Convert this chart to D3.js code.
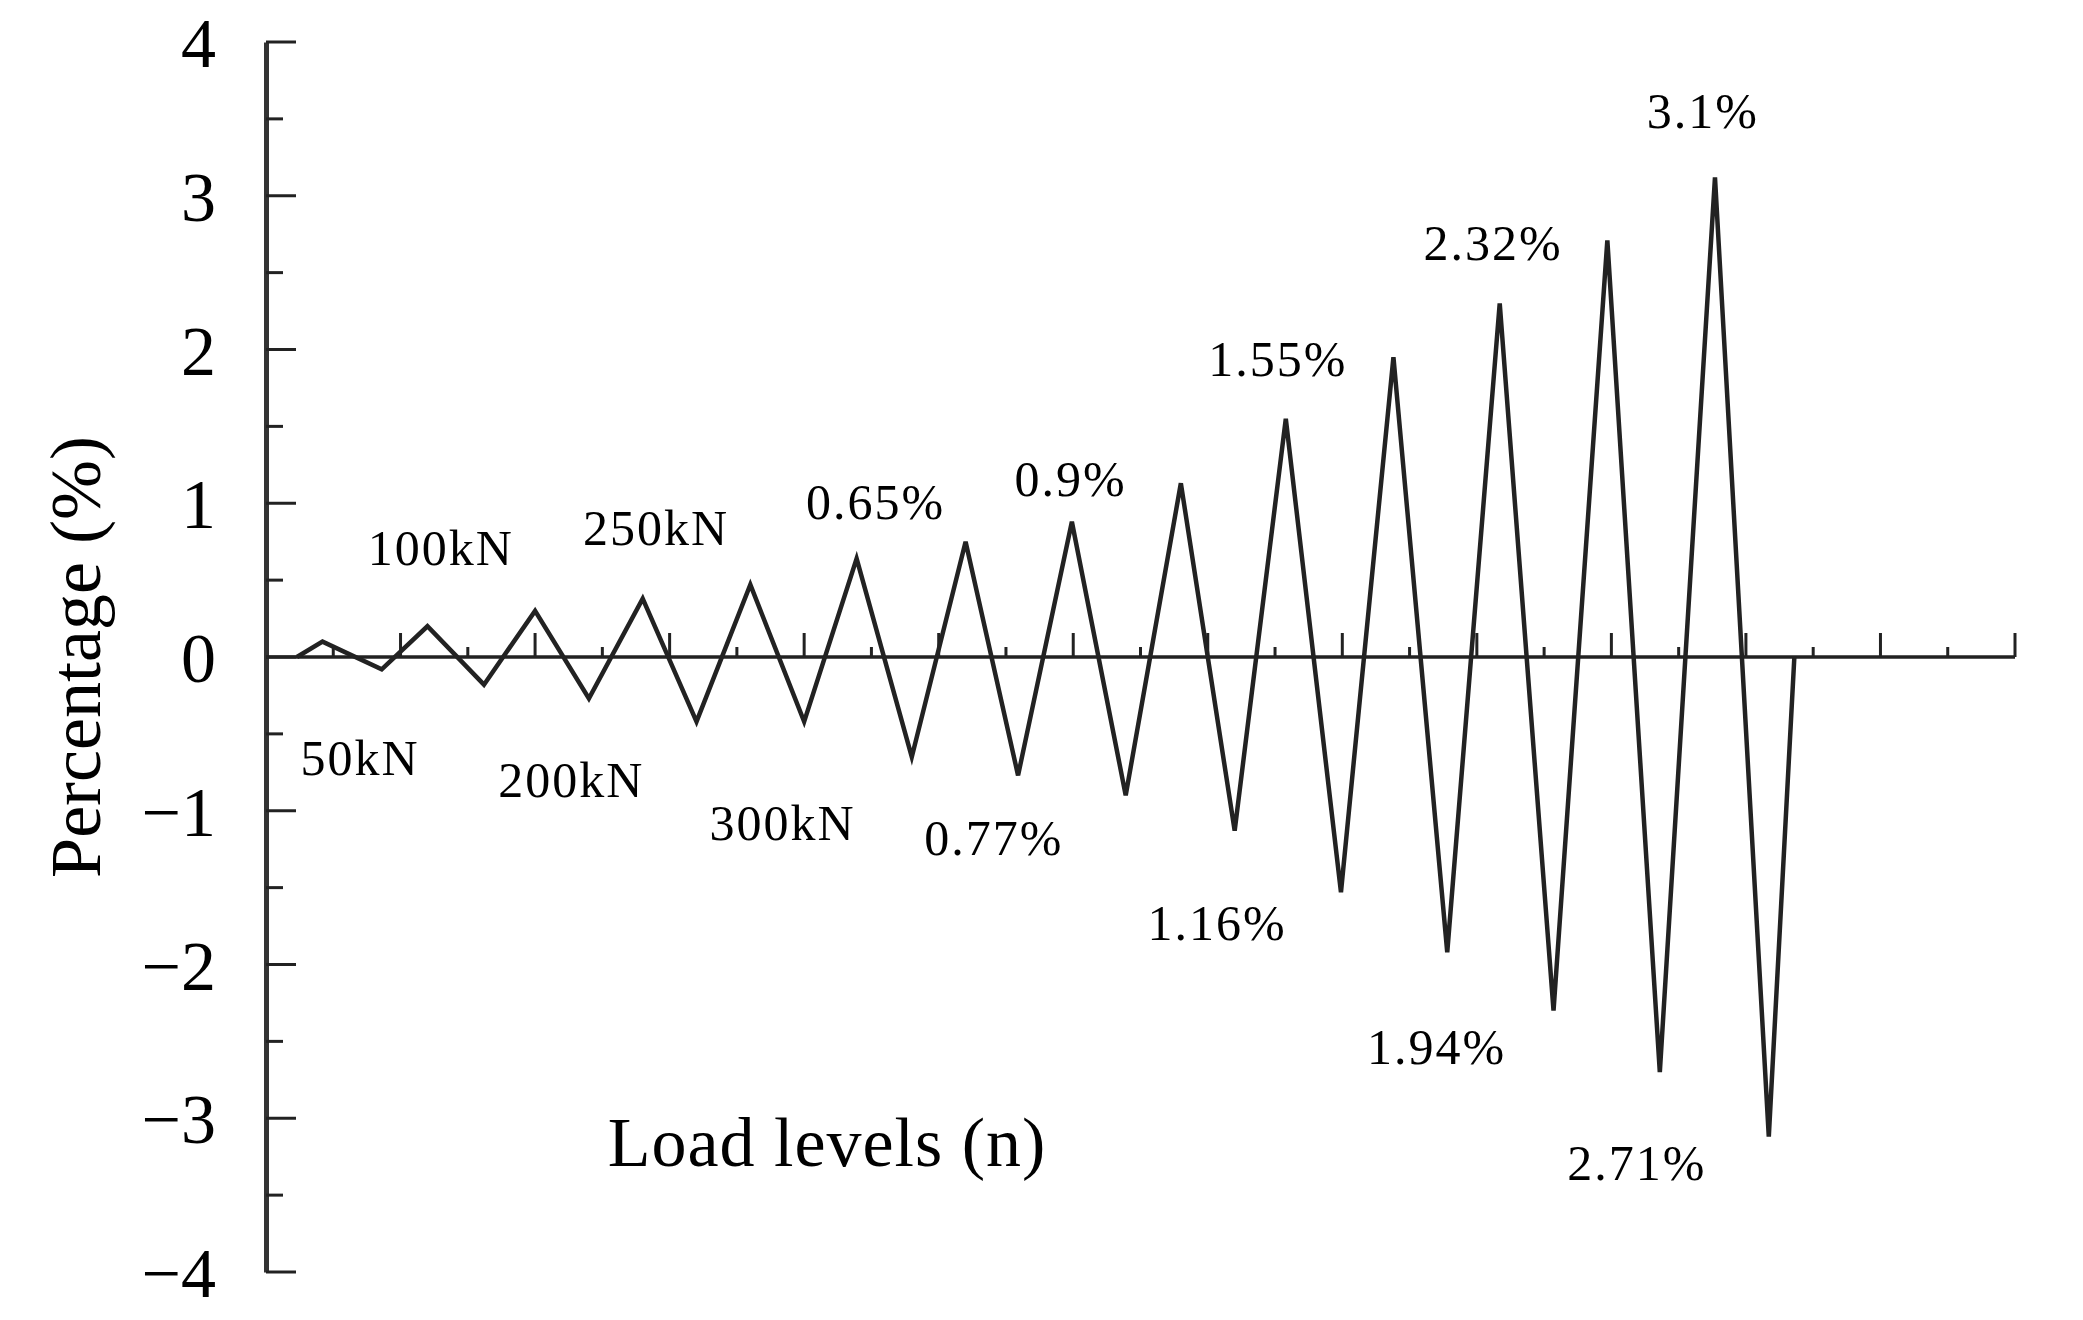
<!DOCTYPE html>
<html>
<head>
  <script src="https://d3js.org/d3.v7.min.js"></script>
  <style>
    body { margin: 0; background: white; }
    text { font-family: "Liberation Serif", "DejaVu Serif", serif; fill: #000; }
  </style>
</head>
<body>
<svg id="chart" width="2083" height="1320"></svg>
<script>
  // peak positions (load-step units) and peak values (%)
  const posX = [0.42, 1.20, 2.00, 2.80, 3.60, 4.39, 5.20, 5.99, 6.80, 7.58, 8.38, 9.17, 9.97, 10.77];
  const posY = [0.10, 0.20, 0.30, 0.38, 0.47, 0.64, 0.75, 0.88, 1.13, 1.55, 1.95, 2.30, 2.71, 3.12];
  const negX = [0.86, 1.62, 2.40, 3.20, 4.00, 4.80, 5.59, 6.39, 7.20, 7.99, 8.78, 9.57, 10.36, 11.17];
  const negY = [-0.08, -0.18, -0.27, -0.42, -0.42, -0.65, -0.77, -0.90, -1.13, -1.53, -1.92, -2.30, -2.70, -3.12];
  const startX = 0.23, endX = 11.36;

  const yTicks = [-4, -3, -2, -1, 0, 1, 2, 3, 4];

  const labels = ["100kN", "250kN", "0.65%", "0.9%", "1.55%", "2.32%", "3.1%",
                  "50kN", "200kN", "300kN", "0.77%", "1.16%", "1.94%", "2.71%"];
  const labelX = [1.3, 2.9, 4.53, 5.98, 7.52, 9.12, 10.68, 0.7, 2.27, 3.84, 5.41, 7.07, 8.7, 10.19];
  const labelY = [0.6, 0.73, 0.9, 1.05, 1.83, 2.58, 3.44, -0.77, -0.91, -1.19, -1.29, -1.84, -2.65, -3.4];

  const svg = d3.select("#chart");
  const x = d3.scaleLinear().domain([0, 13]).range([266, 2015]);
  const y = d3.scaleLinear().domain([-4, 4]).range([1272, 42]);

  // build zigzag: start, alternating pos/neg peaks, end
  const pts = [[startX, 0]];
  posX.forEach((px, i) => {
    pts.push([px, posY[i]]);
    pts.push([negX[i], negY[i]]);
  });
  pts.push([endX, 0]);

  // y axis (ticks inward)
  const yAxis = d3.axisRight(y).tickValues(d3.range(-4, 4.01, 0.5)).tickSize(0).tickFormat("");
  const yg = svg.append("g").attr("transform", `translate(${x(0)},0)`).call(yAxis);
  yg.select(".domain").attr("stroke", "#333").attr("stroke-width", 5);
  yg.selectAll(".tick line").remove();
  d3.range(-4, 4.01, 0.5).forEach(v => {
    const major = Math.abs(v % 1) < 1e-9;
    svg.append("line")
      .attr("x1", x(0)).attr("x2", x(0) + (major ? 30 : 17))
      .attr("y1", y(v)).attr("y2", y(v))
      .attr("stroke", "#222").attr("stroke-width", 3);
  });
  svg.selectAll("text.ytick").data(yTicks).join("text")
    .attr("class", "ytick")
    .attr("x", 216).attr("y", d => y(d) + 25)
    .attr("text-anchor", "end")
    .attr("font-size", 70)
    .text(d => d < 0 ? "\u2212" + Math.abs(d) : d);

  // x axis through zero, ticks upward
  svg.append("line")
    .attr("x1", x(0)).attr("x2", x(13))
    .attr("y1", y(0)).attr("y2", y(0))
    .attr("stroke", "#222").attr("stroke-width", 3.5);
  d3.range(0.5, 13.01, 0.5).forEach(v => {
    const major = Math.abs(v % 1) < 1e-9;
    svg.append("line")
      .attr("x1", x(v)).attr("x2", x(v))
      .attr("y1", y(0)).attr("y2", y(0) - (major ? 24 : 10))
      .attr("stroke", "#222").attr("stroke-width", 3);
  });

  // waveform
  svg.append("path")
    .datum(pts)
    .attr("fill", "none")
    .attr("stroke", "#222")
    .attr("stroke-width", 4.5)
    .attr("stroke-linejoin", "miter")
    .attr("d", d3.line().x(d => x(d[0])).y(d => y(d[1])));

  // annotations
  svg.selectAll("text.ann").data(labels).join("text")
    .attr("class", "ann")
    .attr("x", (d, i) => x(labelX[i]))
    .attr("y", (d, i) => y(labelY[i]))
    .attr("text-anchor", "middle")
    .attr("font-size", 50)
    .attr("letter-spacing", 2)
    .text(d => d);

  svg.append("text")
    .attr("x", x(4.17)).attr("y", y(-3.31))
    .attr("text-anchor", "middle")
    .attr("font-size", 70)
    .attr("letter-spacing", 1)
    .text("Load levels (n)");

  svg.append("text")
    .attr("transform", `translate(100,${y(0)}) rotate(-90)`)
    .attr("text-anchor", "middle")
    .attr("font-size", 72)
    .text("Percentage (%)");
</script>
</body>
</html>
